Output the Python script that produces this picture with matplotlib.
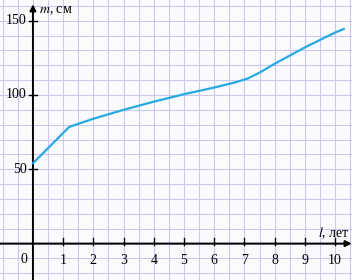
import matplotlib
matplotlib.use('Agg')
import matplotlib.pyplot as plt
import numpy as np

plt.rcParams['mathtext.fontset'] = 'stix'

# data: age (years) vs height (cm)
ages = [0, 1.2, 2, 3, 4, 5, 6, 6.7, 7.1, 7.5, 8, 9, 10, 10.3]
heights = [54, 78.5, 84, 90, 95.5, 100.5, 105, 108.5, 111, 115, 121, 132, 142, 144.5]

x_ticks = [1, 2, 3, 4, 5, 6, 7, 8, 9, 10]
y_ticks = [50, 100, 150]

fig = plt.figure(figsize=(3.52, 2.80), dpi=100)
fig.patch.set_facecolor('#fbfbfe')
ax = fig.add_axes([0, 0, 1, 1])
ax.set_facecolor('#fbfbfe')
ax.set_xlim(-1.09, 10.56)
ax.set_ylim(-24.5, 163.9)
ax.axis('off')

# squared paper
grid_col = '#c9c9f0'
for gx in np.arange(-1.0, 10.6, 0.5):
    ax.axvline(gx, color=grid_col, lw=0.8, zorder=1)
for gy in np.arange(-20, 165, 10):
    ax.axhline(gy, color=grid_col, lw=0.8, zorder=1)

# axes with arrows
ax.annotate('', xy=(10.55, 0), xytext=(-1.09, 0),
            arrowprops=dict(arrowstyle='-|>', color='black', lw=1.4,
                            mutation_scale=9, shrinkA=0, shrinkB=0), zorder=3)
ax.annotate('', xy=(0, 161), xytext=(0, -24.5),
            arrowprops=dict(arrowstyle='-|>', color='black', lw=1.4,
                            mutation_scale=9, shrinkA=0, shrinkB=0), zorder=3)

serif = 'Liberation Serif'
for t in x_ticks:
    ax.plot([t, t], [-1.0, 3.5], color='black', lw=1.0, zorder=3)
    ax.text(t, -7, str(t), ha='center', va='top', fontsize=10, family=serif)
for t in y_ticks:
    ax.plot([-0.12, 0.12], [t, t], color='black', lw=1.0, zorder=3)
    ax.text(-0.2, t, str(t), ha='right', va='center', fontsize=10, family=serif)
ax.text(-0.2, -6, '0', ha='right', va='top', fontsize=10, family=serif)

ax.text(0.2, 157, r'$m$, см', ha='left', va='center', fontsize=10, family=serif)
ax.text(9.45, 7, r'$l$, лет', ha='left', va='center', fontsize=10, family=serif)

ax.plot(ages, heights, color='#27a9e1', lw=1.6, zorder=4, solid_capstyle='round')

fig.savefig('out.png', dpi=100, facecolor=fig.get_facecolor())
